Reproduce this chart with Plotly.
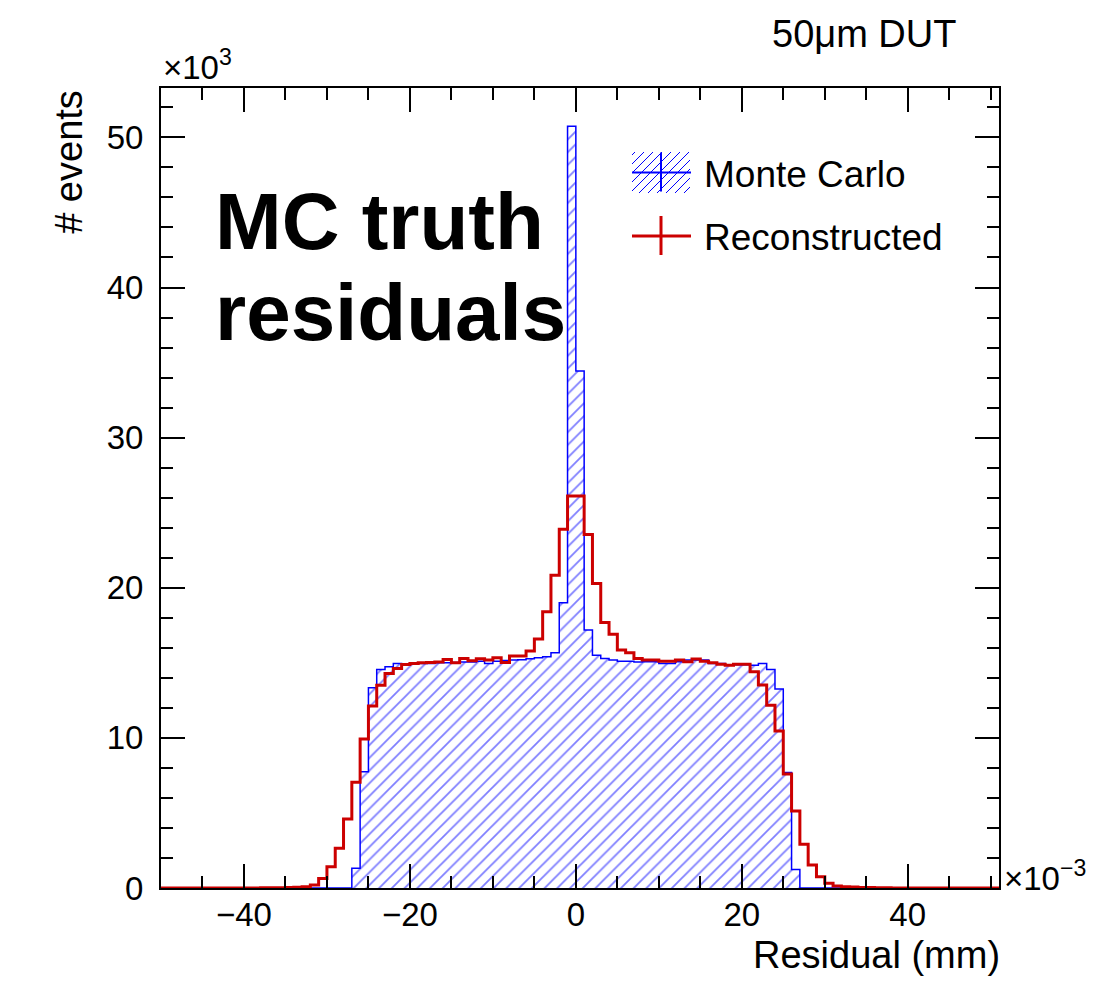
import plotly.graph_objects as go

# Bin lower edges (units of 1e-3 mm), bin width 1
bin_low = list(range(-50, 51))
bin_high_last = 51

# Monte Carlo (x10^3 events) per bin, from -50 to 50
mc_vals = [
    0, 0, 0, 0, 0, 0, 0, 0, 0, 0,            # -50..-41
    0, 0, 0, 0, 0, 0, 0, 0, 0, 0,            # -40..-31
    0, 0, 0, 1.31, 7.74, 13.34, 14.56, 14.73, 14.96, 14.89,   # -30..-21
    14.90, 14.95, 14.95, 15.00, 15.00, 15.02, 15.05, 15.05, 15.10, 14.96,  # -20..-11
    15.11, 15.15, 15.18, 15.20, 15.27, 15.33, 15.40, 15.67, 19.00, 50.75,  # -10..-1
    34.44, 17.18, 15.51, 15.29, 15.18, 15.10, 15.10, 15.05, 15.07, 15.07,  # 0..9
    14.96, 14.96, 15.07, 15.18, 15.18, 15.18, 14.96, 14.96, 14.83, 14.87,  # 10..19
    14.87, 14.83, 14.96, 14.56, 13.25, 7.70, 1.24, 0, 0, 0,   # 20..29
    0, 0, 0, 0, 0, 0, 0, 0, 0, 0,            # 30..39
    0, 0, 0, 0, 0, 0, 0, 0, 0, 0,            # 40..49
    0,                                        # 50
]

# Reconstructed (x10^3 events) per bin
reco_vals = [
    0, 0, 0, 0, 0, 0, 0, 0, 0, 0,            # -50..-41
    0, 0, 0.01, 0.01, 0.02, 0.03, 0.05, 0.09, 0.20, 0.64,   # -40..-31
    1.42, 2.64, 4.59, 7.04, 9.92, 12.12, 13.50, 14.29, 14.62, 14.89,  # -30..-21
    14.96, 15.00, 15.02, 15.05, 15.22, 15.00, 15.29, 15.13, 15.27, 15.18,  # -20..-11
    15.33, 15.02, 15.45, 15.45, 15.78, 16.58, 18.40, 20.84, 23.90, 26.12,  # -10..-1
    26.12, 23.55, 20.28, 17.69, 16.91, 15.85, 15.67, 15.29, 15.18, 15.18,  # 0..9
    15.11, 15.11, 15.18, 15.07, 15.25, 15.11, 15.00, 14.91, 14.83, 14.91,  # 10..19
    14.91, 14.40, 13.52, 12.18, 10.45, 7.59, 5.13, 2.91, 1.53, 0.75,      # 20..29
    0.31, 0.13, 0.09, 0.06, 0.04, 0.03, 0.02, 0.01, 0, 0,   # 30..39
    0, 0, 0, 0, 0, 0, 0, 0, 0, 0,            # 40..49
    0,                                        # 50
]

series_names = ["Monte Carlo", "Reconstructed"]
x_ticks = [-40, -20, 0, 20, 40]
y_ticks = [0, 10, 20, 30, 40, 50]

FONT = "Liberation Sans, Arial, Helvetica, sans-serif"
BLUE = "#0000ff"
RED = "#cc0000"

# plot-area geometry (pixels) used only for legend decoration placement
W, H = 1096, 988
L, R, T, B = 161, 97, 88, 100
PW, PH = W - L - R, H - T - B


def px(xp):
    return (xp - L) / PW


def py(yp):
    return (H - B - yp) / PH


step_x = bin_low + [bin_high_last]
mc_y = mc_vals + [mc_vals[-1]]
reco_y = reco_vals + [reco_vals[-1]]

fig = go.Figure()
fig.add_trace(go.Scatter(
    x=step_x, y=mc_y, mode="lines", line_shape="hv",
    line=dict(color=BLUE, width=1.5),
    fill="tozeroy", fillcolor="rgba(0,0,0,0)",
    fillpattern=dict(shape="/", fgcolor=BLUE, bgcolor="white", size=9, solidity=0.2),
    name=series_names[0], showlegend=False,
))
fig.add_trace(go.Scatter(
    x=step_x, y=reco_y, mode="lines", line_shape="hv",
    line=dict(color=RED, width=3),
    name=series_names[1], showlegend=False,
))

axis_common = dict(
    ticks="inside", ticklen=24, tickwidth=1.5, tickcolor="black",
    showline=True, linewidth=2, linecolor="black", mirror="allticks",
    showgrid=False, zeroline=False,
    tickfont=dict(family=FONT, size=33, color="black"),
)

fig.update_xaxes(
    range=[-50, 51], tickvals=x_ticks,
    minor=dict(dtick=5, tick0=0, ticks="inside", ticklen=12, tickwidth=1.5, tickcolor="black"),
    ticklabelstandoff=-4,
    **axis_common,
)
fig.update_yaxes(
    range=[0, 53.29], tickvals=y_ticks,
    minor=dict(dtick=2, tick0=0, ticks="inside", ticklen=12, tickwidth=1.5, tickcolor="black"),
    ticklabelstandoff=9,
    **axis_common,
)

# ---- manual legend (ROOT style) ----
shapes = []
bx0, bx1, by0, by1 = 632, 690, 152, 193
# hatched box for Monte Carlo
step = 9
c = bx0 + by0  # lines x + y = const for '/' direction in pixel space (y down)
k = bx0 + by0 + 3
while k < bx1 + by1:
    # segment of line x + y = k inside box
    xa = max(bx0, k - by1)
    xb = min(bx1, k - by0)
    if xb > xa:
        shapes.append(dict(type="line", xref="paper", yref="paper",
                           x0=px(xa), y0=py(k - xa), x1=px(xb), y1=py(k - xb),
                           line=dict(color=BLUE, width=1)))
    k += step
legend_rows = [(172.5, BLUE, 2), (236, RED, 3)]
for yc, col, lw in legend_rows:
    shapes.append(dict(type="line", xref="paper", yref="paper",
                       x0=px(632), x1=px(691), y0=py(yc), y1=py(yc),
                       line=dict(color=col, width=lw)))
    shapes.append(dict(type="line", xref="paper", yref="paper",
                       x0=px(661), x1=px(661), y0=py(yc - 20), y1=py(yc + 19),
                       line=dict(color=col, width=lw)))

annotations = [
    dict(text=series_names[0], xref="paper", yref="paper", x=px(702), y=py(174),
         xanchor="left", yanchor="middle", showarrow=False,
         font=dict(family=FONT, size=37, color="black")),
    dict(text=series_names[1], xref="paper", yref="paper", x=px(702), y=py(237),
         xanchor="left", yanchor="middle", showarrow=False,
         font=dict(family=FONT, size=37, color="black")),
    dict(text="Residual (mm)", xref="paper", yref="paper", x=1.004, y=-0.055,
         xanchor="right", yanchor="top", showarrow=False,
         font=dict(family=FONT, size=38, color="black")),
    dict(text="# events", xref="paper", yref="paper", x=-0.11, y=1.0,
         xanchor="center", yanchor="top", textangle=-90, showarrow=False,
         font=dict(family=FONT, size=38, color="black")),
    dict(text="×10<sup>3</sup>", xref="paper", yref="paper", x=0.0, y=1.0,
         xanchor="left", yanchor="bottom", showarrow=False,
         font=dict(family=FONT, size=33, color="black")),
    dict(text="×10<sup>−3</sup>", xref="paper", yref="paper", x=1.003, y=0.015,
         xanchor="left", yanchor="middle", showarrow=False,
         font=dict(family=FONT, size=33, color="black")),
    dict(text="50μm DUT", xref="paper", yref="paper", x=0.951, y=1.068,
         xanchor="right", yanchor="middle", showarrow=False,
         font=dict(family=FONT, size=38, color="black")),
    dict(text="<b>MC truth</b>", xref="paper", yref="paper", x=0.062, y=0.833,
         xanchor="left", yanchor="middle", showarrow=False,
         font=dict(family=FONT, size=80, color="black")),
    dict(text="<b>residuals</b>", xref="paper", yref="paper", x=0.062, y=0.72,
         xanchor="left", yanchor="middle", showarrow=False,
         font=dict(family=FONT, size=80, color="black")),
]

fig.update_layout(
    width=W, height=H,
    margin=dict(l=L, r=R, t=T, b=B),
    plot_bgcolor="white", paper_bgcolor="white",
    font=dict(family=FONT, color="black"),
    showlegend=False,
    shapes=shapes,
    annotations=annotations,
)

fig.write_html("out.html")
